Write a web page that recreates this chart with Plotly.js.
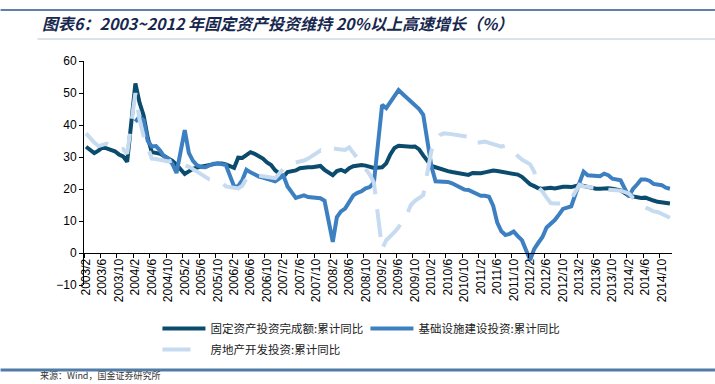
<!DOCTYPE html>
<html><head><meta charset="utf-8">
<script src="https://cdn.plot.ly/plotly-3.0.1.min.js"></script>
<style>html,body{margin:0;padding:0;background:#fff}#chart{width:715px;height:384px}</style>
</head><body><div id="chart"></div>
<script>
const months = [
"2003/2","2003/3","2003/4","2003/5","2003/6","2003/7","2003/8","2003/9","2003/10","2003/11","2003/12",
"2004/1","2004/2","2004/3","2004/4","2004/5","2004/6","2004/7","2004/8","2004/9","2004/10","2004/11","2004/12",
"2005/1","2005/2","2005/3","2005/4","2005/5","2005/6","2005/7","2005/8","2005/9","2005/10","2005/11","2005/12",
"2006/1","2006/2","2006/3","2006/4","2006/5","2006/6","2006/7","2006/8","2006/9","2006/10","2006/11","2006/12",
"2007/1","2007/2","2007/3","2007/4","2007/5","2007/6","2007/7","2007/8","2007/9","2007/10","2007/11","2007/12",
"2008/1","2008/2","2008/3","2008/4","2008/5","2008/6","2008/7","2008/8","2008/9","2008/10","2008/11","2008/12",
"2009/1","2009/2","2009/3","2009/4","2009/5","2009/6","2009/7","2009/8","2009/9","2009/10","2009/11","2009/12",
"2010/1","2010/2","2010/3","2010/4","2010/5","2010/6","2010/7","2010/8","2010/9","2010/10","2010/11","2010/12",
"2011/1","2011/2","2011/3","2011/4","2011/5","2011/6","2011/7","2011/8","2011/9","2011/10","2011/11","2011/12",
"2012/1","2012/2","2012/3","2012/4","2012/5","2012/6","2012/7","2012/8","2012/9","2012/10","2012/11","2012/12",
"2013/1","2013/2","2013/3","2013/4","2013/5","2013/6","2013/7","2013/8","2013/9","2013/10","2013/11","2013/12",
"2014/1","2014/2","2014/3","2014/4","2014/5","2014/6","2014/7","2014/8","2014/9","2014/10","2014/11","2014/12"
];
// 固定资产投资完成额:累计同比
const fai = [
33.2,32,31.2,32,33,32.7,32.2,31.8,30.8,30.2,28.5,
null,53,47,43,36,31.5,31.3,31,30.3,29.6,28.8,27.6,
null,24.7,25.5,26.3,26.7,27,27.3,27.6,27.9,28,28,27.7,
null,26.6,29.8,29.7,30.6,31.5,31,30.2,29.5,28.3,27.5,25.8,
null,23.8,25.3,25.6,25.8,26.5,26.8,26.8,26.8,26.9,27.2,26,
null,24.3,25.6,26,25.4,26.5,27.1,27.4,27.5,27.3,27.1,26.6,
null,26.8,28,30.8,32.8,33.5,33.4,33,33.2,33.3,32.4,30.5,
null,27.2,26.8,26.3,26,25.6,25.3,25,24.8,24.5,24.4,25,
null,24.9,25.2,25.5,25.8,25.6,25.4,25.2,25.1,24.9,24.5,23.8,
null,21.5,20.9,20.2,20.1,20.4,20.4,20.2,20.5,20.7,20.7,20.6,
null,21.2,20.9,20.6,20.1,20.1,20.1,20.3,20.2,20.1,19.9,19.6,
null,17.9,17.6,17.3,17.2,17.3,17,16.4,16,15.8,15.6,15.5
];
// 基础设施建设投资:累计同比
const infra = [
null,null,null,null,null,null,null,null,null,null,null,
null,41,42.6,41.5,35,33.3,33.4,32,30.1,29.5,27.8,25,
null,38.4,31.3,28.8,27.4,26.9,26.8,27.3,27.9,28,27.8,27.5,
null,20.8,20.9,22.8,26,25.2,24.4,23.9,23.6,23.3,23,22.4,
null,24.2,20.8,19,17.2,17.6,18,17.5,17.4,17.3,17.1,16.3,
null,3.5,11.2,13,13.9,16,18,18.8,19.3,20.2,20.6,22,
null,46.3,45.3,47,49,50.9,49.7,48.6,47.6,46.4,45,43.2,
null,27,22.4,22.4,22.5,22.2,21.8,21.2,20.7,19.8,19.7,19.2,
null,17.9,17.9,17.6,14.8,9.5,6.8,5.6,6,6.7,5.3,4,
null,-2.2,1.3,3.2,5,8,9.1,10.3,12,13.8,14.2,14.6,
null,22,25.4,24.3,24.3,24.1,24,24.8,24.3,23.2,23,22.7,
null,17.6,20,21.4,23,23,22.6,21.6,21.3,21.2,20.4,20.1
];
// 房地产开发投资:累计同比
const realEstate = [
37.4,35.8,34.5,33.4,33.8,34.2,33.5,32.8,32.3,32.5,31,
null,50,41.8,36.5,32.5,29.5,29.4,29.2,28.9,28.6,28.9,28.5,
null,27.3,27,26.2,25.4,24.7,23.8,23,22.8,22.5,22.1,20.8,
null,20.2,20.2,21,23.3,24.4,24.4,24.2,24,23.9,23.8,23.4,
null,26.3,27.6,28,28.2,28.6,28.9,29.5,30.3,31.2,32,31.3,
null,32.7,32.5,32.3,32.2,33,31.2,29.5,27.7,26.2,24.5,22,
null,1.2,4,5.1,6.5,8,10.4,11.9,15,16.3,17.2,18.1,
null,32,35.3,36.8,37.4,37.3,37.1,37.2,36.8,36.5,36.3,34.2,
null,34.7,34.8,34.4,34.1,33.6,33.2,33.6,32.5,31.3,30.2,29.2,
null,27.7,25.4,20.5,19.2,17.3,15.6,15.5,15.5,15.5,16.3,16.9,
null,21.3,20.8,20.7,20.4,20.3,20.2,19.9,19.8,19.7,19.7,19.5,
null,18.6,17.2,16.3,15.2,14.2,13.7,13,12.8,12.3,11.8,11
];
const seriesNames = ["固定资产投资完成额:累计同比","基础设施建设投资:累计同比","房地产开发投资:累计同比"];
const yTicks = [-10,0,10,20,30,40,50,60];
const titleText = "图表6：2003~2012 年固定资产投资维持 20%以上高速增长（%）";
const sourceText = "来源：Wind，国金证券研究所";

const W = 715, H = 384;
const M = {l: 83.5, r: 43, t: 61, b: 99};
const pw = W - M.l - M.r, ph = H - M.t - M.b;
const px = x => (x - M.l) / pw;
const py = y => (H - M.b - y) / ph;

const cjk = "'Noto Sans CJK SC', 'Noto Sans', sans-serif";
const latin = "'Liberation Sans', Arial, sans-serif";

const traces = [
  {x: months, y: fai, name: seriesNames[0], type: 'scatter', mode: 'lines', connectgaps: true,
   line: {color: '#0b4c6e', width: 4}, legend: 'legend'},
  {x: months, y: infra, name: seriesNames[1], type: 'scatter', mode: 'lines', connectgaps: true,
   line: {color: '#3d80c2', width: 4}, legend: 'legend'},
  {x: months, y: realEstate, name: seriesNames[2], type: 'scatter', mode: 'lines', connectgaps: true,
   line: {color: '#c6dbf0', width: 4, dash: '28px,15px'}, legend: 'legend2'}
];

const layout = {
  width: W, height: H,
  margin: M,
  paper_bgcolor: '#fff', plot_bgcolor: '#fff',
  showlegend: true,
  title: {text: titleText, xref: 'container', yref: 'container', x: 42 / W, xanchor: 'left',
          y: 1 - 24 / H, yanchor: 'middle',
          font: {family: cjk, size: 16, color: '#17284f', weight: 'bold', style: 'italic'}},
  xaxis: {type: 'category', range: [-0.5, months.length - 0.5], anchor: 'free', position: 10 / 70,
          showline: true, linecolor: '#000', linewidth: 1, showgrid: false, zeroline: false,
          ticks: 'outside', ticklen: 4, tickcolor: '#000', tickson: 'boundaries',
          tickmode: 'linear', tick0: 0, dtick: 4, tickangle: -90,
          tickfont: {family: latin, size: 12, color: '#000'}},
  yaxis: {range: [-10, 60], tickvals: yTicks, showline: true, linecolor: '#000', linewidth: 1,
          showgrid: false, zeroline: false, ticks: 'outside', ticklen: 4, tickcolor: '#000',
          tickfont: {family: latin, size: 12, color: '#000'}},
  legend: {orientation: 'h', x: px(157), xanchor: 'left', y: py(314), yanchor: 'top',
           itemwidth: 43, entrywidth: 150, font: {family: cjk, size: 11.5, color: '#222'},
           bgcolor: 'rgba(0,0,0,0)'},
  legend2: {orientation: 'h', x: px(157), xanchor: 'left', y: py(335), yanchor: 'top',
           itemwidth: 43, font: {family: cjk, size: 11.5, color: '#222'}, bgcolor: 'rgba(0,0,0,0)'},
  shapes: [
    {type: 'line', xref: 'paper', yref: 'paper', x0: px(0), x1: px(715), y0: py(10), y1: py(10),
     line: {color: '#5f81a6', width: 2}},
    {type: 'line', xref: 'paper', yref: 'paper', x0: px(37), x1: px(715), y0: py(39), y1: py(39),
     line: {color: '#b9c5d2', width: 1}},
    {type: 'line', xref: 'paper', yref: 'paper', x0: px(0), x1: px(715), y0: py(370), y1: py(370),
     line: {color: '#4f7ba6', width: 3}}
  ],
  annotations: [
    {text: sourceText, xref: 'paper', yref: 'paper', x: px(37), y: py(384), xanchor: 'left', yanchor: 'bottom',
     showarrow: false, font: {family: cjk, size: 9, color: '#333'}}
  ]
};

Plotly.newPlot('chart', traces, layout, {displayModeBar: false, staticPlot: true});
</script>
</body></html>
